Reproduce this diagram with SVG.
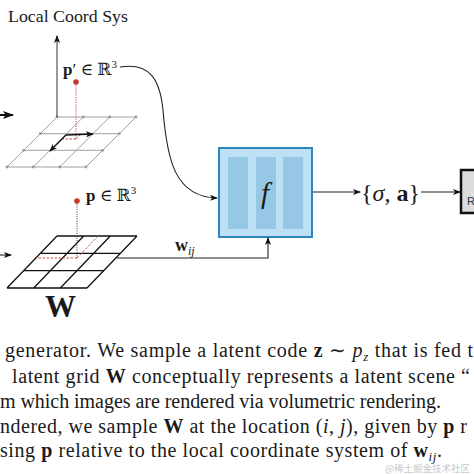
<svg xmlns="http://www.w3.org/2000/svg" width="474" height="474" viewBox="0 0 474 474">
<defs>
<style>
.serif{font-family:"Liberation Serif","DejaVu Serif",serif;fill:#1a1a1a}
.gl{stroke:#a0a0a0;stroke-width:1;fill:none}
.gd{stroke:#111;stroke-width:1.3;fill:none}
.conn{stroke:#222;stroke-width:1.1;fill:none}
.red{stroke:#c0504d;stroke-width:1;fill:none;stroke-dasharray:2.5,1.5}
.redot{stroke:#c0504d;stroke-width:1;fill:none;stroke-dasharray:1.2,1.2}
.cap{font-family:"Liberation Serif",serif;font-size:20px;fill:#1a1a1a}
.dot{fill:#999}
</style>
<marker id="ah" markerWidth="8" markerHeight="6" refX="7" refY="3" orient="auto" markerUnits="userSpaceOnUse"><path d="M0,0 L8,3 L0,6 L2,3 z" fill="#111"/></marker>
<marker id="ahb" markerWidth="11" markerHeight="8" refX="10" refY="4" orient="auto" markerUnits="userSpaceOnUse"><path d="M0,0 L11,4 L0,8 L2.5,4 z" fill="#111"/></marker>
</defs>
<rect width="474" height="474" fill="#fff"/>

<text class="serif" x="8" y="22" font-size="17" textLength="120" lengthAdjust="spacingAndGlyphs">Local Coord Sys</text>

<g id="local-coord-grid">
<path class="gl" d="M57,117H136M40.3,133.7H119.3M23.7,150.3H102.7M7,167H86M57,117L7,167M83.3,117L33.3,167M109.7,117L59.7,167M136,117L86,167"/>
<g class="dot">
<circle cx="57" cy="117" r="1.4"/><circle cx="83.3" cy="117" r="1.4"/><circle cx="109.7" cy="117" r="1.4"/><circle cx="136" cy="117" r="1.4"/>
<circle cx="7" cy="167" r="1.4"/><circle cx="33.3" cy="167" r="1.4"/><circle cx="59.7" cy="167" r="1.4"/><circle cx="86" cy="167" r="1.4"/>
<circle cx="40.3" cy="133.7" r="1.4"/><circle cx="23.7" cy="150.3" r="1.4"/><circle cx="119.3" cy="133.7" r="1.4"/><circle cx="102.7" cy="150.3" r="1.4"/>
</g>
<line x1="57" y1="117" x2="57" y2="36" stroke="#333" stroke-width="1" marker-end="url(#ah)"/>
<line class="redot" x1="76" y1="85" x2="76" y2="139"/>
<path class="red" d="M76,139H63M76,139L80,135"/>
<circle cx="76" cy="82" r="2.8" fill="#c0392b"/>
<line x1="66" y1="135" x2="93" y2="134" stroke="#111" stroke-width="1.3" marker-end="url(#ah)"/>
<line x1="66" y1="135" x2="50" y2="151" stroke="#111" stroke-width="1.3" marker-end="url(#ah)"/>
<text class="serif" x="63" y="75" font-size="17"><tspan font-weight="bold">p</tspan>′ ∈ ℝ<tspan font-size="11" dy="-7">3</tspan></text>
</g>

<g id="latent-grid">
<path class="gd" d="M57,236H137M40.3,253.3H120.3M23.7,270.7H103.7M7,288H87M57,236L7,288M83.7,236L33.7,288M110.3,236L60.3,288M137,236L87,288"/>
<line x1="77" y1="204" x2="77" y2="258" stroke="#555" stroke-width="1" stroke-dasharray="1.2,1.2"/>
<path class="red" d="M77,258H36M77,258L98,236"/>
<circle cx="77" cy="201" r="2.8" fill="#c0392b"/>
<text class="serif" x="86" y="201" font-size="17"><tspan font-weight="bold">p</tspan> ∈ ℝ<tspan font-size="11" dy="-7">3</tspan></text>
<text class="serif" x="45" y="317" font-size="31" font-weight="bold">W</text>
</g>

<g id="f-box">
<rect x="219" y="148" width="93" height="89" fill="#bde0f4" stroke="#2e86c1" stroke-width="2"/>
<rect x="228" y="157" width="20" height="72" fill="#96c8e6"/>
<rect x="256" y="157" width="20" height="72" fill="#96c8e6"/>
<rect x="283" y="157" width="20" height="72" fill="#96c8e6"/>
<text class="serif" x="265" y="203" font-size="29" font-style="italic" text-anchor="middle">f</text>
</g>

<g id="output-label">
<text class="serif" x="361" y="201" font-size="23" textLength="59" lengthAdjust="spacingAndGlyphs">{<tspan font-style="italic">σ</tspan>, <tspan font-weight="bold">a</tspan>}</text>
</g>

<g id="renderer-box">
<rect x="461" y="170" width="30" height="43" fill="#dcdcdc" stroke="#111" stroke-width="2.5"/>
<text x="467" y="205" font-family="Liberation Sans, sans-serif" font-size="11" fill="#333">R</text>
</g>

<g id="connectors">
<line x1="0" y1="115" x2="13" y2="115" stroke="#111" stroke-width="2" marker-end="url(#ahb)"/>
<line x1="0" y1="255" x2="11" y2="255" class="conn" marker-end="url(#ah)"/>
<path class="conn" d="M120,67 C150,62 160,80 163,110 C167,160 175,197 217,198" marker-end="url(#ah)"/>
<path class="conn" d="M117,258 H268 V238" marker-end="url(#ah)"/>
<line class="conn" x1="313" y1="192" x2="360" y2="192" marker-end="url(#ah)"/>
<line class="conn" x1="421" y1="192" x2="460" y2="192" marker-end="url(#ah)"/>
<text class="serif" x="175" y="251" font-size="18"><tspan font-weight="bold">w</tspan><tspan font-style="italic" font-size="12" dy="4">ij</tspan></text>
</g>

<g id="caption">
<text class="cap" x="5" y="357" textLength="468" lengthAdjust="spacing">generator. We sample a latent code <tspan font-weight="bold">z</tspan>  ∼  <tspan font-style="italic">p</tspan><tspan font-style="italic" font-size="13" dy="4">z</tspan><tspan dy="-4"> that is fed t</tspan></text>
<text class="cap" x="12" y="383" textLength="458" lengthAdjust="spacing">latent grid <tspan font-weight="bold">W</tspan> conceptually represents a latent scene “</text>
<text class="cap" x="0" y="408" textLength="441" lengthAdjust="spacing">m which images are rendered via volumetric rendering.</text>
<text class="cap" x="0" y="433" textLength="467" lengthAdjust="spacing">ndered, we sample <tspan font-weight="bold">W</tspan> at the location (<tspan font-style="italic">i</tspan>, <tspan font-style="italic">j</tspan>), given by <tspan font-weight="bold">p</tspan> r</text>
<text class="cap" x="0" y="457" textLength="442" lengthAdjust="spacing">sing <tspan font-weight="bold">p</tspan> relative to the local coordinate system of <tspan font-weight="bold">w</tspan><tspan font-style="italic" font-size="13" dy="4">ij</tspan><tspan dy="-4">.</tspan></text>
<text x="385" y="472" font-family="Noto Sans CJK SC, sans-serif" font-size="9.5" fill="#c8c8c8">@稀土掘金技术社区</text>
</g>
</svg>
